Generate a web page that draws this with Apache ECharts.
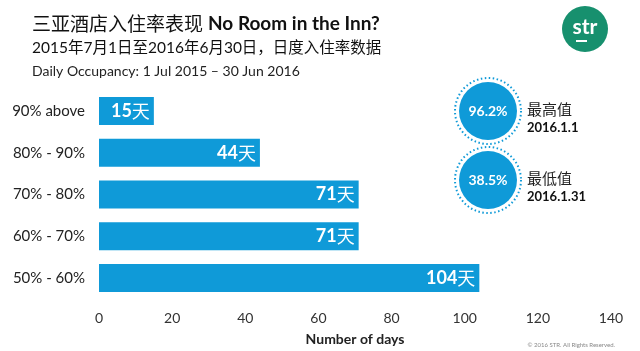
<!DOCTYPE html>
<html><head><meta charset="utf-8">
<script src="https://cdn.jsdelivr.net/npm/echarts@6/dist/echarts.min.js"></script>
<style>html,body{margin:0;padding:0;background:#fff}#c{width:640px;height:351px}</style>
</head><body><div id="c"></div>
<script>
const categories = ['90% above', '80% - 90%', '70% - 80%', '60% - 70%', '50% - 60%'];
const days = [15, 44, 71, 71, 104];
const xTicks = [0, 20, 40, 60, 80, 100, 120, 140];
const highValue = '96.2%', highDate = '2016.1.1';
const lowValue = '38.5%', lowDate = '2016.1.31';

const FONT = 'Lato, "Noto Sans CJK SC", sans-serif';
const BLUE = '#0f9ad8';
const chart = echarts.init(document.getElementById('c'));

function badge(cx, cy, val, label, date) {
  return [
    {type:'circle', shape:{cx:cx, cy:cy, r:33}, style:{fill:'none', stroke:BLUE, lineWidth:2, lineDash:[1.5,2.5]}},
    {type:'circle', shape:{cx:cx, cy:cy, r:29}, style:{fill:BLUE}},
    {type:'text', x:cx, y:cy, style:{text:val, fill:'#fff', font:'bold 14px '+FONT, align:'center', verticalAlign:'middle'}},
    {type:'text', x:527, y:cy-2, style:{text:label, fill:'#222', font:'15px "Noto Sans CJK SC", sans-serif', verticalAlign:'middle'}},
    {type:'text', x:527, y:cy+17, style:{text:date, fill:'#111', font:'bold 13px '+FONT, verticalAlign:'middle'}}
  ];
}

chart.setOption({
  animation:false,
  grid:{left:99, right:29, top:90, bottom:50, containLabel:false},
  xAxis:{type:'value', min:0, max:140, interval:20,
    axisLine:{show:false}, axisTick:{show:false}, splitLine:{show:false},
    axisLabel:{color:'#333', fontSize:14, fontFamily:FONT, margin:12,
      formatter:v=> xTicks.includes(v) ? String(v) : ''},
    name:'Number of days', nameLocation:'middle', nameGap:33,
    nameTextStyle:{color:'#222', fontSize:14, fontWeight:'bold', fontFamily:FONT}},
  yAxis:{type:'category', data:categories, inverse:true,
    axisLine:{show:false}, axisTick:{show:false},
    axisLabel:{color:'#222', fontSize:15, fontFamily:FONT, margin:14}},
  series:[{type:'bar', data:days, barWidth:28, itemStyle:{color:BLUE},
    label:{show:true, position:'insideRight', formatter:'{n|{c}}{d|天}', distance:4,
      rich:{n:{color:'#fff', fontSize:18, fontWeight:'bold', fontFamily:FONT},
            d:{color:'#fff', fontSize:18, fontFamily:'"Noto Sans CJK SC", sans-serif'}}}}],
  graphic:[
    {type:'text', x:32, y:24, style:{text:'三亚酒店入住率表现 ', fill:'#111', font:'19px "Noto Sans CJK SC", sans-serif', verticalAlign:'middle'}},
    {type:'text', x:208, y:24, style:{text:'No Room in the Inn?', fill:'#111', font:'bold 19px '+FONT, verticalAlign:'middle'}},
    {type:'text', x:32, y:48, style:{text:'2015年7月1日至2016年6月30日，日度入住率数据', fill:'#111', font:'15.5px '+FONT, verticalAlign:'middle'}},
    {type:'text', x:32, y:71, style:{text:'Daily Occupancy: 1 Jul 2015 – 30 Jun 2016', fill:'#222', font:'14px '+FONT, verticalAlign:'middle'}},
    {type:'circle', shape:{cx:585, cy:29, r:23}, style:{fill:'#17906e'}},
    {type:'text', x:585, y:27, style:{text:'str', fill:'#fff', font:'bold 21px '+FONT, align:'center', verticalAlign:'middle'}},
    {type:'rect', shape:{x:576, y:40, width:11, height:2}, style:{fill:'#fff'}},
    ...badge(488, 111, highValue, '最高值', highDate),
    ...badge(488, 180, lowValue, '最低值', lowDate),
    {type:'text', x:615, y:345, style:{text:'© 2016 STR. All Rights Reserved.', fill:'#888', font:'6px '+FONT, align:'right', verticalAlign:'middle'}}
  ]
});
</script></body></html>
